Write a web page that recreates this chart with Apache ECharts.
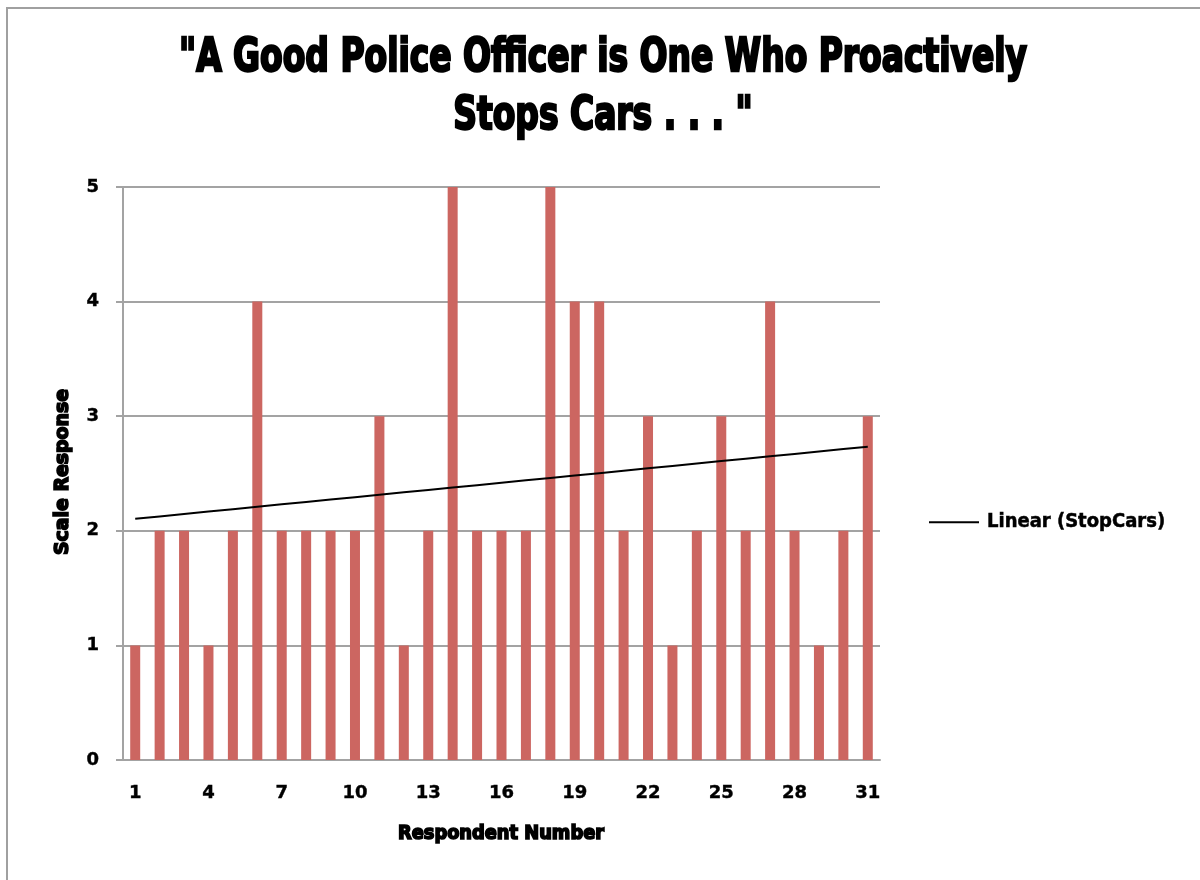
<!DOCTYPE html>
<html>
<head>
<meta charset="utf-8">
<script src="https://cdn.jsdelivr.net/npm/echarts@6/dist/echarts.min.js"></script>
<style>
  html, body { margin: 0; padding: 0; background: #fff; }
  #chart { width: 1200px; height: 880px; }
</style>
</head>
<body>
<div id="chart"></div>
<script>
// Survey responses: "A good police officer is one who proactively stops cars"
const respondents = [1,2,3,4,5,6,7,8,9,10,11,12,13,14,15,16,17,18,19,20,21,22,23,24,25,26,27,28,29,30,31];
const stopCars = [1,2,2,1,2,4,2,2,2,2,3,1,2,5,2,2,2,5,4,4,2,3,1,2,3,2,4,2,1,2,3];
const yTicks = [0,1,2,3,4,5];
const titleLines = ['"A Good Police Officer is One Who Proactively', 'Stops Cars . . . "'];
const trendName = 'Linear (StopCars)';

// Least-squares linear trend of the responses against respondent number
function linearTrend(xs, ys) {
  const n = xs.length;
  const mx = xs.reduce((a, b) => a + b, 0) / n;
  const my = ys.reduce((a, b) => a + b, 0) / n;
  let sxy = 0, sxx = 0;
  for (let i = 0; i < n; i++) {
    sxy += (xs[i] - mx) * (ys[i] - my);
    sxx += (xs[i] - mx) * (xs[i] - mx);
  }
  const slope = sxy / sxx;
  return xs.map(x => my + slope * (x - mx));
}
const trend = linearTrend(respondents, stopCars);

// Heavy condensed lettering: squeeze a bold face horizontally to a target width
const HEAVY = '"DejaVu Sans Condensed", "DejaVu Sans", sans-serif';
const measureCtx = document.createElement('canvas').getContext('2d');
function squeeze(text, size, width) {
  measureCtx.font = 'bold ' + size + 'px ' + HEAVY;
  return width / measureCtx.measureText(text).width;
}
const titleSize = 46;
const titleScale = squeeze(titleLines[0], titleSize, 848);
const xNameScale = squeeze('Respondent Number', 20, 206);
const yNameScale = squeeze('Scale Response', 20, 166);

const gridColor = '#a3a3a3';
const chart = echarts.init(document.getElementById('chart'));

chart.setOption({
  animation: false,
  backgroundColor: '#ffffff',
  grid: { left: 123, right: 320, top: 187, bottom: 120, containLabel: false },
  legend: {
    data: [trendName],
    left: 929,
    top: 512,
    padding: 0,
    orient: 'vertical',
    itemWidth: 50,
    itemHeight: 2,
    icon: 'rect',
    itemStyle: { color: '#000' },
    textStyle: {
      fontFamily: HEAVY, fontWeight: 'bold', fontSize: 20, color: '#000',
      textBorderColor: '#000', textBorderWidth: 0.5, padding: [2, 0, 0, 3]
    }
  },
  xAxis: {
    type: 'category',
    data: respondents,
    axisLine: { show: true, lineStyle: { color: gridColor, width: 2 } },
    axisTick: { show: false },
    axisLabel: {
      interval: 2,
      margin: 24,
      fontFamily: '"DejaVu Sans", sans-serif',
      fontWeight: 'bold',
      fontSize: 18,
      color: '#000',
      textBorderColor: '#000',
      textBorderWidth: 0.4
    }
  },
  yAxis: {
    type: 'value',
    min: 0,
    max: 5,
    interval: 1,
    axisLine: { show: true, lineStyle: { color: gridColor, width: 2 } },
    axisTick: { show: true, length: 7, lineStyle: { color: gridColor, width: 2 } },
    splitLine: { show: true, lineStyle: { color: gridColor, width: 2 } },
    axisLabel: {
      margin: 24,
      fontFamily: '"DejaVu Sans", sans-serif',
      fontWeight: 'bold',
      fontSize: 18,
      color: '#000',
      textBorderColor: '#000',
      textBorderWidth: 0.4,
      formatter: v => yTicks.includes(v) ? String(v) : ''
    }
  },
  series: [
    {
      name: 'StopCars',
      type: 'bar',
      data: stopCars,
      barWidth: 10,
      itemStyle: { color: '#cc6661' }
    },
    {
      name: trendName,
      type: 'line',
      data: trend,
      symbol: 'none',
      lineStyle: { color: '#000', width: 2 },
      itemStyle: { color: '#000' },
      z: 5
    }
  ],
  graphic: [
    {
      type: 'rect',
      shape: { x: 7, y: 8, width: 1300, height: 1000 },
      style: { fill: 'none', stroke: '#a0a0a0', lineWidth: 2 },
      silent: true
    },
    {
      type: 'group',
      x: 603,
      y: 0,
      scaleX: titleScale,
      children: titleLines.map((line, i) => ({
        type: 'text',
        x: 0,
        y: 82 + i * 58,
        style: {
          text: line,
          font: 'bold ' + titleSize + 'px ' + HEAVY,
          fill: '#000',
          stroke: '#000',
          lineWidth: 2.4,
          textAlign: 'center',
          textVerticalAlign: 'bottom'
        }
      }))
    },
    {
      type: 'text',
      x: 501,
      y: 834,
      scaleX: xNameScale,
      style: {
        text: 'Respondent Number',
        font: 'bold 20px ' + HEAVY,
        fill: '#000',
        stroke: '#000',
        lineWidth: 1.6,
        textAlign: 'center',
        textVerticalAlign: 'middle'
      }
    },
    {
      type: 'text',
      x: 63,
      y: 472,
      rotation: Math.PI / 2,
      scaleX: yNameScale,
      style: {
        text: 'Scale Response',
        font: 'bold 20px ' + HEAVY,
        fill: '#000',
        stroke: '#000',
        lineWidth: 1.6,
        textAlign: 'center',
        textVerticalAlign: 'middle'
      }
    }
  ]
});
</script>
</body>
</html>
